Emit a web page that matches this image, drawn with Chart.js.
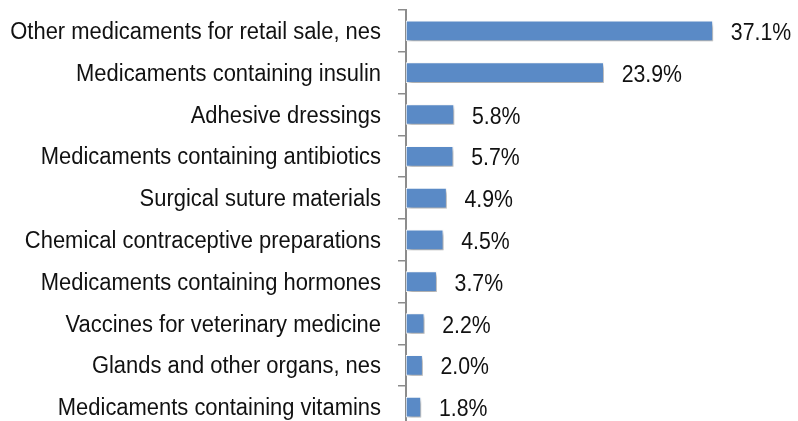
<!DOCTYPE html>
<html>
<head>
<meta charset="utf-8">
<script src="https://cdn.jsdelivr.net/npm/chart.js@4"></script>
<style>
html,body{margin:0;padding:0;background:#fff;overflow:hidden;}
#wrap{position:relative;width:798px;height:428px;}
</style>
</head>
<body>
<div id="wrap"><canvas id="c"></canvas></div>
<script>
const categories = [
  "Other medicaments for retail sale, nes",
  "Medicaments containing insulin",
  "Adhesive dressings",
  "Medicaments containing antibiotics",
  "Surgical suture materials",
  "Chemical contraceptive preparations",
  "Medicaments containing hormones",
  "Vaccines for veterinary medicine",
  "Glands and other organs, nes",
  "Medicaments containing vitamins"
];
const shares = [37.1, 23.9, 5.8, 5.7, 4.9, 4.5, 3.7, 2.2, 2.0, 1.8];
const valueLabels = ["37.1%", "23.9%", "5.8%", "5.7%", "4.9%", "4.5%", "3.7%", "2.2%", "2.0%", "1.8%"];

const FONT = "'Liberation Sans', Arial, sans-serif";

function drawScaledText(ctx, text, x, y, align, sx) {
  ctx.save();
  ctx.translate(x, y);
  ctx.scale(sx, 1);
  ctx.textAlign = align;
  ctx.textBaseline = 'alphabetic';
  ctx.fillText(text, 0, 0);
  ctx.restore();
}

const shadowPlugin = {
  id: 'shadow',
  beforeDatasetsDraw(chart) {
    const ctx = chart.ctx;
    ctx.save();
    ctx.shadowColor = 'rgba(0,0,0,0.35)';
    ctx.shadowBlur = 4;
    ctx.shadowOffsetX = 2;
    ctx.shadowOffsetY = 3;
  },
  afterDatasetsDraw(chart) {
    chart.ctx.restore();
  }
};

const textPlugin = {
  id: 'texts',
  afterDraw(chart) {
    const ctx = chart.ctx;
    const meta = chart.getDatasetMeta(0);
    const yScale = chart.scales.y;
    ctx.save();
    ctx.fillStyle = '#111';
    ctx.font = '23px ' + FONT;
    chart.data.labels.forEach((lab, i) => {
      const y = yScale.getPixelForTick(i);
      drawScaledText(ctx, lab, 381, y + 8, 'right', 0.954);
    });
    meta.data.forEach((bar, i) => {
      drawScaledText(ctx, valueLabels[i], bar.x + 18, bar.y + 9, 'left', 0.925);
    });
    ctx.restore();
  }
};

new Chart(document.getElementById('c'), {
  type: 'bar',
  data: {
    labels: categories,
    datasets: [{
      data: shares,
      backgroundColor: '#5A8AC6',
      borderColor: '#ffffff',
      borderWidth: 1,
      borderSkipped: false,
      barThickness: 20
    }]
  },
  options: {
    indexAxis: 'y',
    responsive: true,
    maintainAspectRatio: false,
    animation: false,
    layout: { padding: { top: 10, left: 0, right: 0, bottom: 0 } },
    plugins: { legend: { display: false }, tooltip: { enabled: false } },
    scales: {
      x: {
        display: false,
        min: 0,
        max: 47.4
      },
      y: {
        grid: {
          display: true,
          drawOnChartArea: false,
          drawTicks: true,
          tickLength: 8,
          color: '#8c8c8c',
          lineWidth: 1.5,
          offset: true
        },
        border: { display: true, color: '#8c8c8c', width: 2 },
        ticks: { display: false, autoSkip: false },
        afterFit(scale) { scale.width = 406; }
      }
    }
  },
  plugins: [shadowPlugin, textPlugin]
});
</script>
</body>
</html>
